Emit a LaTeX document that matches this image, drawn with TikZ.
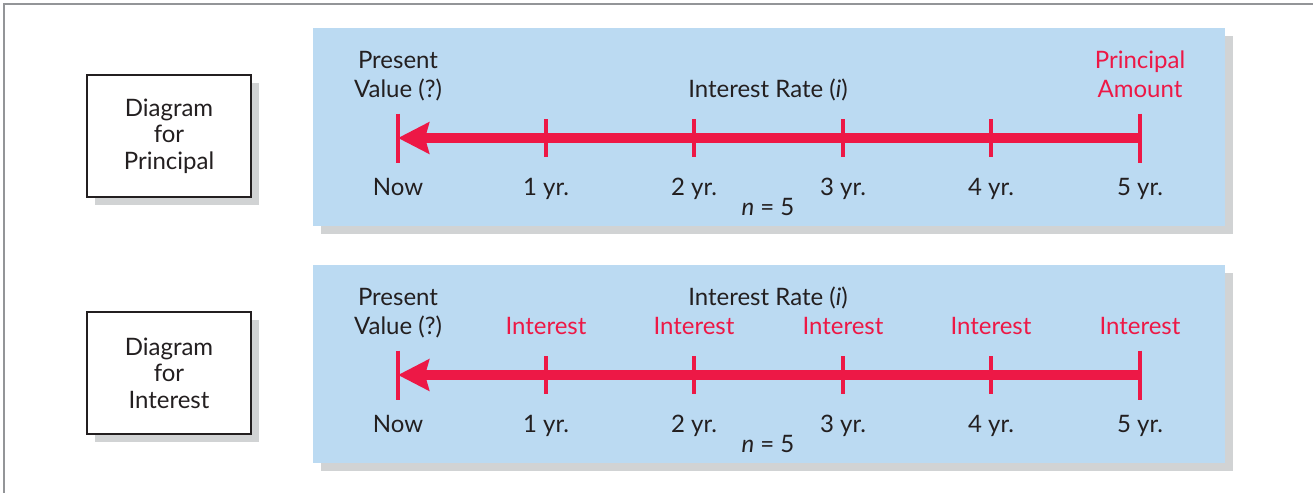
\documentclass[tikz,border=0pt]{standalone}
\usepackage{fontspec}
\setmainfont{Lato}
\usetikzlibrary{arrows.meta,shadows}
\definecolor{PanelBlue}{HTML}{BBDAF2}
\definecolor{ShadowGray}{HTML}{D1D3D4}
\definecolor{TimeRed}{HTML}{ED1846}
\definecolor{FrameGray}{HTML}{939598}
\definecolor{TimeInk}{HTML}{231F20}
\tikzset{
  every node/.style={font=\fontsize{12}{14.5}\selectfont, text=TimeInk, inner sep=0pt},
  panel/.style={fill=PanelBlue},
  backing/.style={fill=ShadowGray},
  frame/.style={draw=FrameGray, line width=1.3pt},
  labelbox/.style={draw=TimeInk, line width=0.8pt, fill=white, minimum width=82pt, minimum height=61pt,
    align=center, font=\fontsize{12}{13.3}\selectfont,
    drop shadow={shadow xshift=4pt, shadow yshift=-4pt, fill=ShadowGray, opacity=1}},
  timeline/.style={-{Stealth[length=15.5pt,width=15.5pt,inset=2pt]}, draw=TimeRed, line width=5.25pt},
  yeartick/.style={draw=TimeRed, line width=1.8pt},
  redtext/.style={text=TimeRed},
}

\begin{document}
\begin{tikzpicture}[x=0.5pt,y=-0.5pt]
  \useasboundingbox (0,0) rectangle (1313,493);
  % Outer frame, open on the right and bottom
  \draw[frame] (4,493) -- (4,4) -- (1313,4);
  % Captions on the left
  \node[labelbox] (capP) at (169,136) {Diagram\\for\\Principal};
  \node[labelbox] (capI) at (169,373) {Diagram\\for\\Interest};
  % Blue panels with offset backing
  \foreach \top in {28,265} {
    \fill[backing] (321,\top+8) rectangle (1233,\top+206);
    \fill[panel] (313,\top) rectangle (1225,\top+198);
  }
  % Time lines: year points, ticks, year labels
  \foreach \row/\top in {P/28,I/265} {
    \foreach \k/\x/\yr in {0/398/Now,1/546/1 yr.,2/694/2 yr.,3/843/3 yr.,4/991/4 yr.,5/1140/5 yr.} {
      \coordinate (\row\k) at (\x,\top+110);
      \node[anchor=base] (\row-yr\k) at (\x,\top+167) {\yr};
    }
    \foreach \x in {546,694,843,991}
      \draw[yeartick] (\x,\top+91) -- (\x,\top+129);
    \foreach \x in {398,1140}
      \draw[yeartick] (\x,\top+85.5) -- (\x,\top+134.5);
    \draw[timeline] (\row5) -- (\row0);
    \node[anchor=base, align=center] (\row-pv) at (398,\top+69) {Present\\Value (?)};
    \node[anchor=base] (\row-n) at (768,\top+187) {\textit{n} = 5};
  }
  % Labels that differ between the two panels
  \node[anchor=base] (P-rate) at (768,97) {Interest Rate (\textit{i})};
  \node[anchor=base, align=center, redtext] (P-amt) at (1140,97) {Principal\\Amount};
  \node[anchor=base] (I-rate) at (768,305) {Interest Rate (\textit{i})};
  \foreach \x [count=\k] in {546,694,843,991,1140}
    \node[anchor=base, redtext] (I-int\k) at (\x,334) {Interest};
\end{tikzpicture}
\end{document}
